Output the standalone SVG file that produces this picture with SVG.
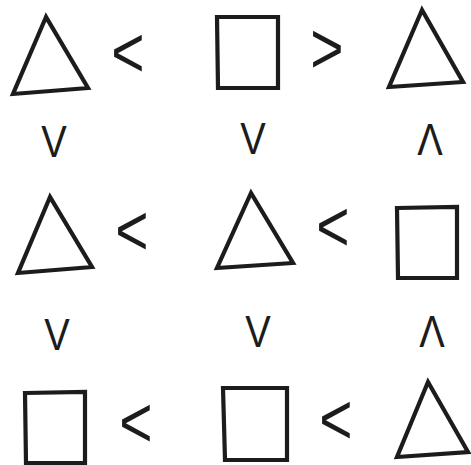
<svg xmlns="http://www.w3.org/2000/svg" width="471" height="465" viewBox="0 0 471 465">
<style>
.s{fill:none;stroke:#1c1c1c;stroke-width:4.2;stroke-linejoin:miter}
.op{font-family:"Liberation Sans",Arial,sans-serif;font-size:62px;fill:#1c1c1c;text-anchor:middle}
.v{font-family:"Liberation Sans",Arial,sans-serif;font-size:45px;fill:#1c1c1c;text-anchor:middle}
</style>
<rect width="471" height="465" fill="#ffffff"/>
<!-- row 1 -->
<polygon class="s" points="46,17 13,94 88,88"/>
<polygon class="s" points="217,17 278,17 278,88 218,88"/>
<polygon class="s" points="422,10 389,87 463,82"/>
<!-- row 2 -->
<polygon class="s" points="50,197 18,273 92,267"/>
<polygon class="s" points="251,193 217,268 293,263"/>
<polygon class="s" points="397,208 457,207 457,278 398,278"/>
<!-- row 3 -->
<polygon class="s" points="25,393 85,392 85,463 26,463"/>
<polygon class="s" points="223,388 287,388 287,460 225,460"/>
<polygon class="s" points="428,382 397,457 468,452"/>
<!-- horizontal relations -->
<text class="op" transform="translate(128,77) scale(0.92,1.18)">&lt;</text>
<text class="op" transform="translate(327,73) scale(0.92,1.18)">&gt;</text>
<text class="op" transform="translate(132,255) scale(0.92,1.18)">&lt;</text>
<text class="op" transform="translate(333,251) scale(0.92,1.18)">&lt;</text>
<text class="op" transform="translate(136,447) scale(0.92,1.18)">&lt;</text>
<text class="op" transform="translate(336,444) scale(0.92,1.18)">&lt;</text>
<!-- vertical relations -->
<text class="v" transform="translate(54,157) scale(0.85,1)">V</text>
<text class="v" transform="translate(253,154) scale(0.85,1)">V</text>
<text class="v" transform="translate(430,155) scale(0.85,1)">Λ</text>
<text class="v" transform="translate(57,350) scale(0.85,1)">V</text>
<text class="v" transform="translate(258,347) scale(0.85,1)">V</text>
<text class="v" transform="translate(432,347) scale(0.85,1)">Λ</text>
</svg>
